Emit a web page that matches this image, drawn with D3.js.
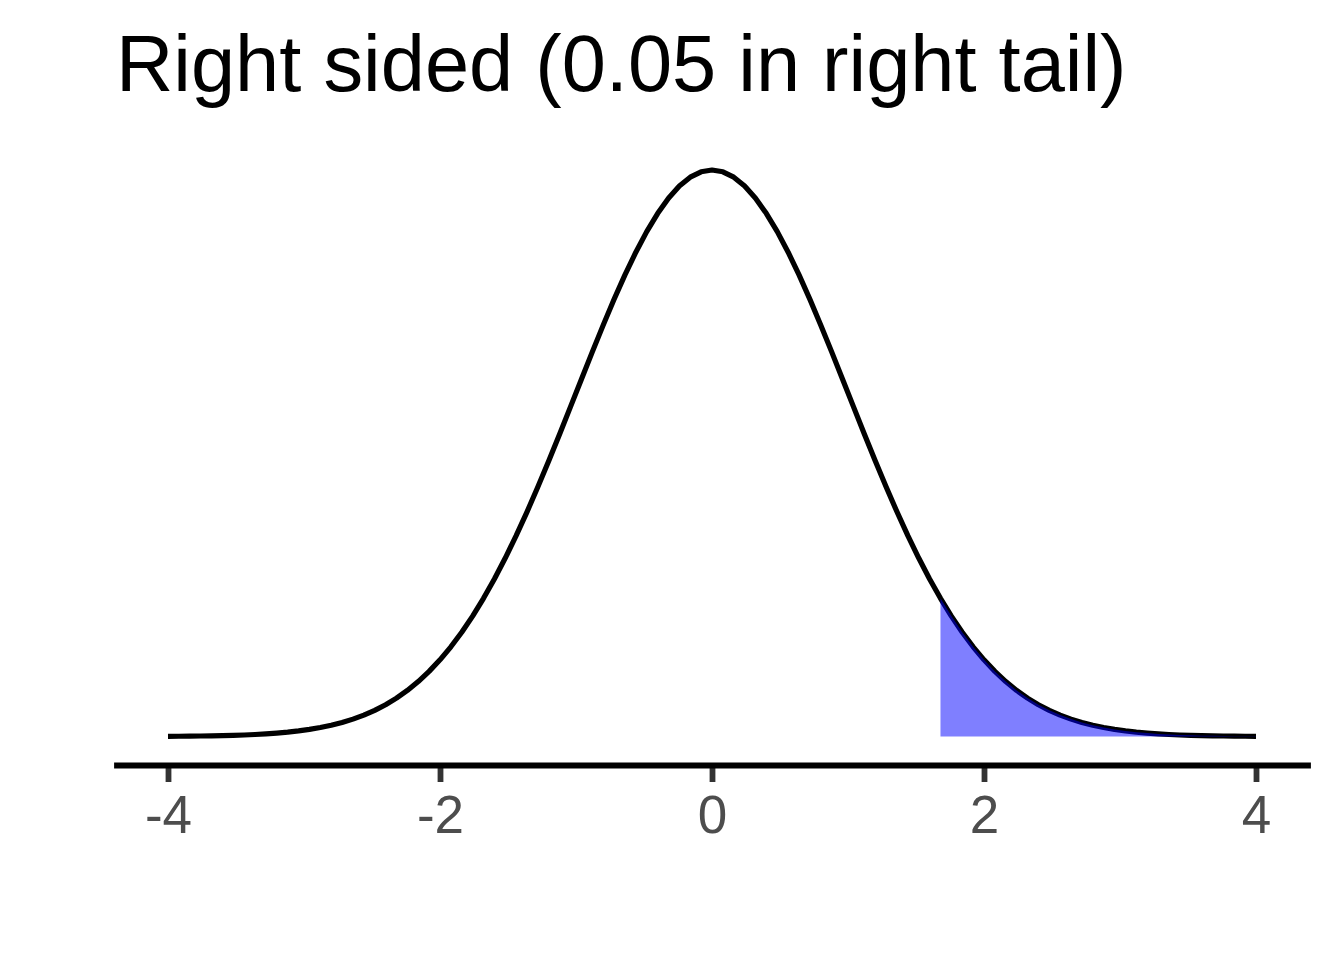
<!DOCTYPE html>
<html>
<head>
<meta charset="utf-8">
<script src="https://cdn.jsdelivr.net/npm/d3@7"></script>
<style>
  html, body { margin: 0; padding: 0; background: #ffffff; }
  svg { display: block; }
</style>
</head>
<body>
<svg id="chart" width="1344" height="960"></svg>
<script>
// ---- Data ----
const titleText = "Right sided (0.05 in right tail)";
const tickValues = [-4, -2, 0, 2, 4];
const tickLabels = ["-4", "-2", "0", "2", "4"];
const xValues = [
  -4.00, -3.92, -3.84, -3.76, -3.68, -3.60, -3.52, -3.44, -3.36, -3.28,
  -3.20, -3.12, -3.04, -2.96, -2.88, -2.80, -2.72, -2.64, -2.56, -2.48,
  -2.40, -2.32, -2.24, -2.16, -2.08, -2.00, -1.92, -1.84, -1.76, -1.68,
  -1.60, -1.52, -1.44, -1.36, -1.28, -1.20, -1.12, -1.04, -0.96, -0.88,
  -0.80, -0.72, -0.64, -0.56, -0.48, -0.40, -0.32, -0.24, -0.16, -0.08,
   0.00,
   0.08, 0.16, 0.24, 0.32, 0.40, 0.48, 0.56, 0.64, 0.72, 0.80,
   0.88, 0.96, 1.04, 1.12, 1.20, 1.28, 1.36, 1.44, 1.52, 1.60,
   1.68, 1.76, 1.84, 1.92, 2.00, 2.08, 2.16, 2.24, 2.32, 2.40,
   2.48, 2.56, 2.64, 2.72, 2.80, 2.88, 2.96, 3.04, 3.12, 3.20,
   3.28, 3.36, 3.44, 3.52, 3.60, 3.68, 3.76, 3.84, 3.92, 4.00
];
const densityValues = [
  0.00013, 0.00018, 0.00025, 0.00034, 0.00046, 0.00061, 0.00081, 0.00107, 0.00141, 0.00184,
  0.00238, 0.00307, 0.00393, 0.00499, 0.00631, 0.00792, 0.00988, 0.01224, 0.01507, 0.01843,
  0.02239, 0.02704, 0.03246, 0.03871, 0.04586, 0.05399, 0.06317, 0.07342, 0.08478, 0.09729,
  0.11092, 0.12567, 0.14147, 0.15823, 0.17585, 0.19419, 0.21307, 0.23230, 0.25164, 0.27086,
  0.28969, 0.30785, 0.32505, 0.34105, 0.35553, 0.36827, 0.37903, 0.38762, 0.39387, 0.39767,
  0.39894,
  0.39767, 0.39387, 0.38762, 0.37903, 0.36827, 0.35553, 0.34105, 0.32505, 0.30785, 0.28969,
  0.27086, 0.25164, 0.23230, 0.21307, 0.19419, 0.17585, 0.15823, 0.14147, 0.12567, 0.11092,
  0.09729, 0.08478, 0.07342, 0.06317, 0.05399, 0.04586, 0.03871, 0.03246, 0.02704, 0.02239,
  0.01843, 0.01507, 0.01224, 0.00988, 0.00792, 0.00631, 0.00499, 0.00393, 0.00307, 0.00238,
  0.00184, 0.00141, 0.00107, 0.00081, 0.00061, 0.00046, 0.00034, 0.00025, 0.00018, 0.00013
];
const criticalValue = 1.645;

// ---- Chart ----
const svg = d3.select("#chart");
const points = xValues.map((x, i) => ({ x: x, y: densityValues[i] }));
const tailPoints = points.filter(d => d.x >= criticalValue);

const x = d3.scaleLinear().domain([-4.4, 4.4]).range([113.6, 1310.4]);
const y = d3.scaleLinear().domain([0, 0.39894]).range([736.5, 170]);

// Density curve
svg.append("path")
  .datum(points)
  .attr("fill", "none")
  .attr("stroke", "#000000")
  .attr("stroke-width", 5.2)
  .attr("stroke-linejoin", "round")
  .attr("d", d3.line().x(d => x(d.x)).y(d => y(d.y)));

// Shaded right tail (semi-transparent, drawn over the curve)
svg.append("path")
  .datum(tailPoints)
  .attr("fill", "rgba(0,0,255,0.5)")
  .attr("stroke", "none")
  .attr("d", d3.area().x(d => x(d.x)).y0(y(0)).y1(d => y(d.y)));

// X axis
const axisG = svg.append("g").attr("transform", "translate(0,765)");
axisG.call(
  d3.axisBottom(x)
    .tickValues(tickValues)
    .tickFormat((d, i) => tickLabels[i])
    .tickSizeOuter(0)
    .tickSizeInner(17)
    .tickPadding(13)
);
axisG.select(".domain").attr("stroke", "#000000").attr("stroke-width", 5.8);
axisG.selectAll(".tick line").attr("stroke", "#333333").attr("stroke-width", 5.8);
axisG.selectAll(".tick text")
  .attr("fill", "#4D4D4D")
  .attr("font-family", "'Liberation Sans', Arial, Helvetica, sans-serif")
  .attr("font-size", 53);
axisG.select(".domain").raise();

// Title
svg.append("text")
  .attr("x", 116)
  .attr("y", 91)
  .attr("font-family", "'Liberation Sans', Arial, Helvetica, sans-serif")
  .attr("font-size", 79.4)
  .attr("fill", "#000000")
  .text(titleText);
</script>
</body>
</html>
